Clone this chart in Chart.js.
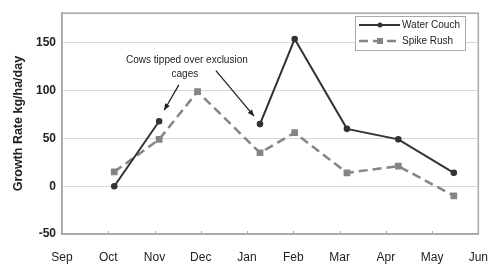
<!DOCTYPE html>
<html>
<head>
<meta charset="utf-8">
<script src="https://cdn.jsdelivr.net/npm/chart.js@4"></script>
<style>
	html, body { margin: 0; padding: 0; background: #fff; }
	#wrap { width: 496px; height: 266px; }
</style>
</head>
<body>
<div id="wrap"><canvas id="growthChart" width="496" height="266"></canvas></div>
<script>
"use strict"

// month axis, Sep = 0 ... Jun = 9
const months = ["Sep", "Oct", "Nov", "Dec", "Jan", "Feb", "Mar", "Apr", "May", "Jun"]
const yTicks = [-50, 0, 50, 100, 150]

// sampling dates as month position
const sampleX = [1.13, 2.1, 2.93, 4.28, 5.03, 6.16, 7.27, 8.47]
const waterCouch = [0, 68, null, 65, 154, 60, 49, 14]
const spikeRush = [15, 49, 99, 35, 56, 14, 21, -10]

const noteLines = ["Cows tipped over exclusion", "cages"]

function pts(values) {
	return sampleX.map((x, i) => ({ x: x, y: values[i] }))
}

const font = "'Liberation Sans', Arial, sans-serif"

// plot frame
const frame = {
	id: "frame",
	beforeDatasetsDraw(chart) {
		const a = chart.chartArea
		const c = chart.ctx
		const xs = chart.scales.x
		c.save()
		c.strokeStyle = "#a8a8a8"
		c.lineWidth = 1.5
		c.strokeRect(a.left, a.top, a.right - a.left, a.bottom - a.top)
		// small inner ticks on the month axis
		c.lineWidth = 1
		months.forEach((m, i) => {
			const x = Math.round(xs.getPixelForValue(i)) + 0.5
			c.beginPath()
			c.moveTo(x, a.bottom)
			c.lineTo(x, a.bottom - 3)
			c.stroke()
		})
		c.restore()
	},
}

// annotation + legend box
const extras = {
	id: "extras",
	afterDatasetsDraw(chart) {
		const c = chart.ctx
		const xs = chart.scales.x
		const ys = chart.scales.y

		// note text
		c.save()
		c.fillStyle = "#222"
		c.font = "10px " + font
		c.textAlign = "center"
		c.textBaseline = "middle"
		const tx = xs.getPixelForValue(2.7)
		c.fillText(noteLines[0], tx, ys.getPixelForValue(132))
		c.fillText(noteLines[1], tx - 2, ys.getPixelForValue(117))

		// arrows to Nov and Jan points
		const nov = { x: xs.getPixelForValue(sampleX[1]), y: ys.getPixelForValue(waterCouch[1]) }
		const jan = { x: xs.getPixelForValue(sampleX[3]), y: ys.getPixelForValue(waterCouch[3]) }
		arrow(c, tx - 8, ys.getPixelForValue(106), nov.x + 5, nov.y - 11)
		arrow(c, tx + 29, ys.getPixelForValue(121), jan.x - 6, jan.y - 8)
		c.restore()

		// legend
		const lx = 355, ly = 16, lw = 110, lh = 34
		c.save()
		c.fillStyle = "#fff"
		c.fillRect(lx, ly, lw, lh)
		c.strokeStyle = "#aaa"
		c.lineWidth = 1
		c.strokeRect(lx + 0.5, ly + 0.5, lw, lh)
		const items = chart.data.datasets
		items.forEach((ds, i) => {
			const y = ly + 9 + i * 16
			c.strokeStyle = ds.borderColor
			c.lineWidth = ds.borderWidth
			c.setLineDash(ds.borderDash || [])
			c.beginPath()
			c.moveTo(lx + 4, y)
			c.lineTo(lx + 45, y)
			c.stroke()
			c.setLineDash([])
			c.fillStyle = ds.pointBackgroundColor
			if (ds.pointStyle === "rect") {
				c.fillRect(lx + 22, y - 3, 6, 6)
			} else {
				c.beginPath()
				c.arc(lx + 25, y, 2.5, 0, Math.PI * 2)
				c.fill()
			}
			c.fillStyle = "#222"
			c.font = "10px " + font
			c.textBaseline = "middle"
			c.fillText(ds.label, lx + 47, y)
		})
		c.restore()
	},
}

function arrow(c, x1, y1, x2, y2) {
	c.strokeStyle = "#222"
	c.fillStyle = "#222"
	c.lineWidth = 1.3
	c.beginPath()
	c.moveTo(x1, y1)
	c.lineTo(x2, y2)
	c.stroke()
	const a = Math.atan2(y2 - y1, x2 - x1)
	c.beginPath()
	c.moveTo(x2, y2)
	c.lineTo(x2 - 7 * Math.cos(a - 0.4), y2 - 7 * Math.sin(a - 0.4))
	c.lineTo(x2 - 7 * Math.cos(a + 0.4), y2 - 7 * Math.sin(a + 0.4))
	c.closePath()
	c.fill()
}

const ctx = document.getElementById("growthChart")
const myChart = new Chart(ctx, {
	type: "line",
	data: {
		datasets: [
			{
				label: "Water Couch",
				data: pts(waterCouch),
				borderColor: "#333",
				backgroundColor: "#333",
				pointBackgroundColor: "#333",
				pointBorderColor: "#333",
				borderWidth: 2,
				pointStyle: "circle",
				pointRadius: 2.3,
				spanGaps: false,
			},
			{
				label: "Spike Rush",
				data: pts(spikeRush),
				borderColor: "#858585",
				backgroundColor: "#858585",
				pointBackgroundColor: "#858585",
				pointBorderColor: "#858585",
				borderWidth: 2.5,
				borderDash: [9, 5],
				pointStyle: "rect",
				pointRadius: 3,
			},
		],
	},
	options: {
		responsive: false,
		animation: false,
		layout: {
			padding: { top: 9, right: 11, left: 0, bottom: 0 },
		},
		plugins: {
			legend: { display: false },
			tooltip: { enabled: false },
		},
		scales: {
			x: {
				type: "linear",
				min: 0,
				max: 9,
				afterBuildTicks: (s) => {
					s.ticks = months.map((m, i) => ({ value: i }))
				},
				afterFit: (s) => {
					s.height = 32
				},
				ticks: {
					callback: (v) => months[v],
					color: "#222",
					font: { family: font, size: 12 },
					padding: 8,
					maxRotation: 0,
					autoSkip: false,
				},
				grid: { display: false },
				border: { color: "#a8a8a8", width: 1.5 },
			},
			y: {
				min: -50,
				max: 181,
				afterBuildTicks: (s) => {
					s.ticks = yTicks.map((v) => ({ value: v }))
				},
				afterFit: (s) => {
					s.width = 62
				},
				ticks: {
					color: "#222",
					font: { family: font, size: 12, weight: "bold" },
					padding: 6,
				},
				grid: { color: "#d8d8d8", lineWidth: 1, drawTicks: false },
				border: { color: "#a8a8a8", width: 1.5 },
				title: {
					display: true,
					text: "Growth Rate kg/ha/day",
					color: "#222",
					font: { family: font, size: 12.5, weight: "bold" },
					padding: { top: 11, bottom: 0 },
				},
			},
		},
	},
	plugins: [frame, extras],
})
</script>
</body>
</html>
